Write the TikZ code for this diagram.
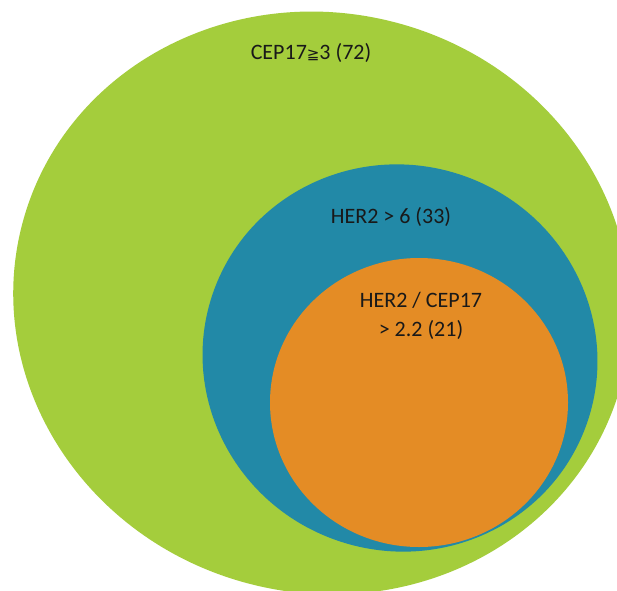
\documentclass[tikz,border=0pt]{standalone}
\usepackage{fontspec}
\setmainfont{Carlito}
\newfontfamily\symfont{DejaVu Sans}
\definecolor{setgreen}{HTML}{A4CD3C}
\definecolor{setblue}{HTML}{2289A7}
\definecolor{setorange}{HTML}{E48C25}
\begin{document}
\begin{tikzpicture}[x=1pt,y=1pt,
  lbl/.style={inner sep=0pt, text=black!90, font=\fontsize{22}{29}\selectfont}]
  \fill [white] (0,0) rectangle (617,590);
  \useasboundingbox (0,0) rectangle (617,590);
  % the three sets, largest first
  \fill [setgreen, rotate around={-15:(322,287)}] (322,287) ellipse (310 and 290);
  \fill [setblue, rotate around={-20:(400,232)}] (400,232) ellipse (198 and 193);
  \fill [setorange] (419,187.5) ellipse (149 and 144.5);
  % counts
  \node [lbl, anchor=base] (cep) at (311,530) {CEP17{\symfont\fontsize{15}{15}\selectfont ≧}3 (72)};
  \node [lbl, anchor=base] (her) at (391,367) {HER2 > 6 (33)};
  \node [lbl, align=center, anchor=base] (ratio) at (421,254) {HER2 / CEP17\\> 2.2 (21)};
\end{tikzpicture}
\end{document}
